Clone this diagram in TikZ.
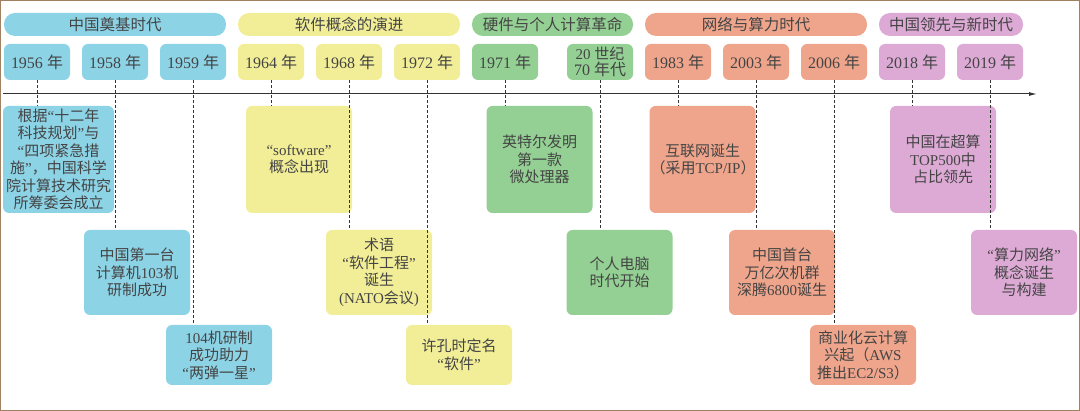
\documentclass[tikz,border=0pt]{standalone}
\usepackage{fontspec}
\usetikzlibrary{arrows.meta}
\setmainfont{Liberation Serif}
\newfontfamily\cjk{Noto Sans CJK SC}
\newcommand\zh[1]{{\cjk #1}}
\definecolor{cb}{HTML}{8DD3E6}
\definecolor{cy}{HTML}{F2EE98}
\definecolor{cg}{HTML}{94D094}
\definecolor{co}{HTML}{EFA58C}
\definecolor{cp}{HTML}{DDAAD6}
\definecolor{tx}{HTML}{444444}
\tikzset{
 era/.style={rounded corners=11pt,inner sep=0pt,minimum height=23pt,text=tx,font=\fontsize{15.5}{16}\selectfont},
 yr/.style={rounded corners=6pt,inner sep=0pt,minimum width=66pt,minimum height=36pt,text=tx,font=\fontsize{16}{14}\selectfont,align=center},
 ev/.style={rounded corners=6pt,inner sep=1pt,minimum width=106pt,text width=104pt,align=center,text=tx,font=\fontsize{15}{17.5}\selectfont},
 dl/.style={densely dashed,line width=0.7pt,black!80}
}
\begin{document}
\begin{tikzpicture}[x=1pt,y=-1pt]
\useasboundingbox (0,0) rectangle (1080,411);
\draw[draw=brown!50!gray,line width=1pt] (0.5,0.5) rectangle (1079.5,410.5);
% eras
\node[era,fill=cb,minimum width=222pt] (e1) at (115,24.5) {\zh{中国奠基时代}};
\node[era,fill=cy,minimum width=222pt] (e2) at (349,24.5) {\zh{软件概念的演进}};
\node[era,fill=cg,minimum width=161pt] (e3) at (552.5,24.5) {\zh{硬件与个人计算革命}};
\node[era,fill=co,minimum width=222pt] (e4) at (756,24.5) {\zh{网络与算力时代}};
\node[era,fill=cp,minimum width=144pt] (e5) at (951,24.5) {\zh{中国领先与新时代}};
% axis
\coordinate (a0) at (3,94);
\coordinate (a1) at (1037,94);
\draw[line width=1pt,black!80,-{Latex[length=8pt,width=4pt]}] (a0) -- (a1);
% years
\node[yr,fill=cb] (y56) at (37,62) {1956 \zh{年}};
\node[yr,fill=cb] (y58) at (115,62) {1958 \zh{年}};
\node[yr,fill=cb] (y59) at (193,62) {1959 \zh{年}};
\node[yr,fill=cy] (y64) at (271,62) {1964 \zh{年}};
\node[yr,fill=cy] (y68) at (349,62) {1968 \zh{年}};
\node[yr,fill=cy] (y72) at (427,62) {1972 \zh{年}};
\node[yr,fill=cg] (y71) at (505,62) {1971 \zh{年}};
\node[yr,fill=cg] (y70) at (600,62) {\fontsize{15}{12}\selectfont 20 \zh{世纪}\\ 70 \zh{年代}};
\node[yr,fill=co] (y83) at (678,62) {1983 \zh{年}};
\node[yr,fill=co] (y03) at (756,62) {2003 \zh{年}};
\node[yr,fill=co] (y06) at (834,62) {2006 \zh{年}};
\node[yr,fill=cp] (y18) at (912,62) {2018 \zh{年}};
\node[yr,fill=cp] (y19) at (990,62) {2019 \zh{年}};
% events row 1
\node[ev,fill=cb,minimum width=109pt,text width=109pt,minimum height=107pt] (v56) at (58.5,159.5) {\zh{根据}“\zh{十二年}\\\zh{科技规划}”\zh{与}\\“\zh{四项紧急措}\\\zh{施}”\zh{，中国科学}\\\zh{院计算技术研究}\\\zh{所筹委会成立}};
\node[ev,fill=cy,minimum height=107pt] (v64) at (299,159.5) {“software”\\\zh{概念出现}};
\node[ev,fill=cg,minimum height=107pt] (v71) at (539.5,159.5) {\zh{英特尔发明}\\\zh{第一款}\\\zh{微处理器}};
\node[ev,fill=co,minimum height=107pt] (v83) at (702.5,159.5) {\zh{互联网诞生}\\\zh{（采用}TCP/IP\zh{）}};
\node[ev,fill=cp,minimum height=107pt] (v18) at (943,159.5) {\zh{中国在超算}\\TOP500\zh{中}\\\zh{占比领先}};
% row 2
\node[ev,fill=cb,minimum height=85pt] (v58) at (137,272.5) {\zh{中国第一台}\\\zh{计算机}103\zh{机}\\\zh{研制成功}};
\node[ev,fill=cy,minimum height=85pt] (v68) at (379,272.5) {\zh{术语}\\“\zh{软件工程}”\\\zh{诞生}\\(NATO\zh{会议})};
\node[ev,fill=cg,minimum height=85pt] (v70) at (619.5,272.5) {\zh{个人电脑}\\\zh{时代开始}};
\node[ev,fill=co,minimum height=85pt] (v03) at (782,272.5) {\zh{中国首台}\\\zh{万亿次机群}\\\zh{深腾}6800\zh{诞生}};
\node[ev,fill=cp,minimum height=85pt] (v19) at (1024,272.5) {“\zh{算力网络}”\\\zh{概念诞生}\\\zh{与构建}};
% row 3
\node[ev,fill=cb,minimum height=60pt] (v59) at (219,355) {104\zh{机研制}\\\zh{成功助力}\\“\zh{两弹一星}”};
\node[ev,fill=cy,minimum height=60pt] (v72) at (459,355) {\zh{许孔时定名}\\“\zh{软件}”};
\node[ev,fill=co,minimum height=60pt] (v06) at (863,355) {\zh{商业化云计算}\\\zh{兴起（}AWS\\\zh{推出}EC2/S3\zh{）}};
% dashed links
\foreach \y/\v in {y56/v56,y58/v58,y59/v59,y64/v64,y68/v68,y72/v72,y71/v71,y70/v70,y83/v83,y03/v03,y06/v06,y18/v18,y19/v19}
  \draw[dl] (\y.south) -- (\y.south |- \v.north);
\end{tikzpicture}
\end{document}
